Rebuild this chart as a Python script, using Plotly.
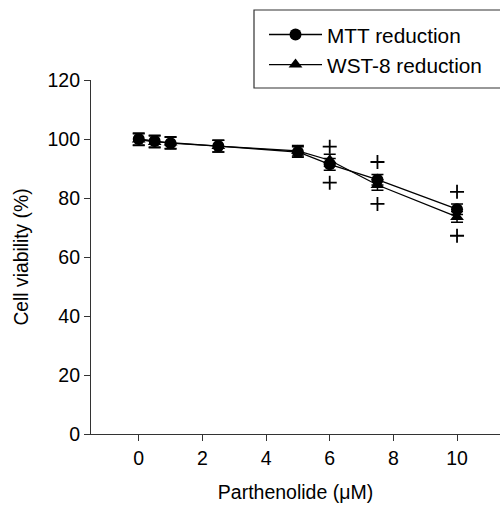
import plotly.graph_objects as go

conc = [0, 0.5, 1, 2.5, 5, 6, 7.5, 10]
mtt = [100.0, 99.3, 98.6, 97.6, 95.6, 91.4, 86.2, 76.2]
mtt_err = [2.0, 2.0, 2.0, 2.0, 1.8, 2.0, 1.8, 1.8]
wst = [99.8, 99.0, 98.8, 97.6, 96.0, 92.8, 84.4, 73.6]
wst_err = [2.0, 2.0, 2.0, 2.0, 1.8, 2.0, 1.8, 1.8]
sig_x = [6, 6, 7.5, 7.5, 10, 10]
sig_y = [97.4, 85.2, 92.2, 78.0, 82.1, 67.2]

FAM = "Liberation Sans, Arial, sans-serif"

fig = go.Figure()
fig.add_trace(go.Scatter(
    x=conc, y=mtt, name="MTT reduction", mode="lines+markers",
    line=dict(color="black", width=1.3),
    marker=dict(symbol="circle", size=12, color="black"),
    error_y=dict(type="data", array=mtt_err, color="black", thickness=1.5, width=6),
))
fig.add_trace(go.Scatter(
    x=conc, y=wst, name="WST-8 reduction", mode="lines+markers",
    line=dict(color="black", width=1.3),
    marker=dict(symbol="triangle-up", size=12, color="black"),
    error_y=dict(type="data", array=wst_err, color="black", thickness=1.5, width=6),
))
fig.add_trace(go.Scatter(
    x=sig_x, y=sig_y, mode="markers", showlegend=False,
    marker=dict(symbol="cross-thin", size=10, line=dict(color="black", width=1.8)),
))

fig.update_layout(
    width=500, height=507,
    margin=dict(l=91, r=0, t=80, b=73, autoexpand=False),
    paper_bgcolor="white", plot_bgcolor="white",
    font=dict(family=FAM, size=19.5, color="black"),
    showlegend=True,
    legend=dict(x=0.423, y=(434 - 50) / 354, xanchor="left", yanchor="middle",
                bgcolor="rgba(0,0,0,0)", borderwidth=0,
                font=dict(family=FAM, size=20.8, color="black"),
                tracegroupgap=0, itemsizing="trace", itemwidth=53),
    shapes=[dict(type="rect", xref="paper", yref="paper",
                 x0=(254 - 91) / 409, x1=1.02, y0=(434 - 88) / 354, y1=(434 - 10) / 354,
                 line=dict(color="#333", width=1.2), fillcolor="rgba(0,0,0,0)")],
)
fig.update_xaxes(
    range=[-1.5, 11.35], tickvals=[0, 2, 4, 6, 8, 10],
    showline=True, linecolor="#333", linewidth=1.2,
    ticks="outside", ticklen=6, tickcolor="#333", showgrid=False, zeroline=False,
    tickfont=dict(size=19.5),
    title=dict(text="Parthenolide (μM)", standoff=17, font=dict(size=19.5)),
)
fig.update_yaxes(
    range=[0, 120], tickvals=[0, 20, 40, 60, 80, 100, 120],
    showline=True, linecolor="#333", linewidth=1.2,
    ticks="outside", ticklen=6, tickcolor="#333", showgrid=False, zeroline=False,
    tickfont=dict(size=19.5),
    title=dict(text="Cell viability (%)", standoff=13, font=dict(size=19.3)),
)
fig.write_html("out.html", config={"displayModeBar": False},
               post_script="document.body.style.margin='0';document.body.style.overflow='hidden';")
